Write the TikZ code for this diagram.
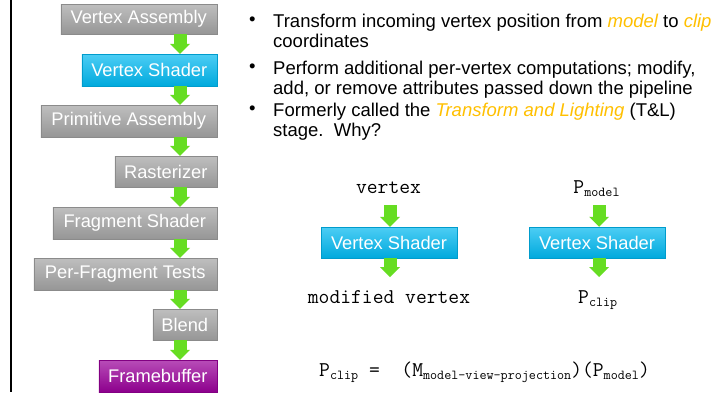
\documentclass[tikz,border=0pt]{standalone}
\usepackage{fontspec}
\setmainfont{Liberation Sans}
\usetikzlibrary{arrows.meta}
\definecolor{boxgray}{RGB}{163,163,163}
\definecolor{vscyan}{RGB}{0,184,240}
\definecolor{fbpurple}{RGB}{153,0,153}
\definecolor{arrgreen}{RGB}{102,221,34}
\definecolor{hlorange}{RGB}{255,192,0}
\newcommand\hlt[1]{{\itshape\color{hlorange}#1}}
\newcommand\msub[1]{\raisebox{-3.5pt}{\fontsize{13.7}{14}\selectfont #1}}
\begin{document}
\begin{tikzpicture}[x=1pt,y=-1pt,
  stagebox/.style={anchor=east, minimum height=31, inner sep=0, text=white,
    font=\fontsize{18.3}{20}\selectfont, draw=#1!85!black, line width=0.5,
    top color=#1!70!white, middle color=#1, bottom color=#1!92!black},
  flow/.style={line width=13, arrgreen,
    -{Triangle[width=20pt,length=10pt,line width=0pt]}},
  btext/.style={anchor=base west, inner sep=0, font=\fontsize{18.5}{20}\selectfont},
  mtext/.style={anchor=base, inner sep=0, font=\ttfamily\fontsize{21}{22}\selectfont}]
\useasboundingbox (0,0) rectangle (727,392);
\fill[white] (0,0) rectangle (727,392);
\draw[line width=2.5] (11,0) -- (11,392);

% pipeline
\node[stagebox=boxgray, minimum width=156, minimum height=30] (va) at (217,19) {Vertex Assembly};
\node[stagebox=vscyan, minimum width=135, minimum height=32] (vs) at (217,70) {Vertex Shader};
\node[stagebox=boxgray, minimum width=176, minimum height=32] (pa) at (217,121) {Primitive Assembly};
\node[stagebox=boxgray, minimum width=102] (ra) at (217,171.5) {Rasterizer};
\node[stagebox=boxgray, minimum width=164, minimum height=32] (fs) at (217,223) {Fragment Shader};
\node[stagebox=boxgray, minimum width=183, minimum height=32] (pf) at (217,274) {Per-Fragment Tests};
\node[stagebox=boxgray, minimum width=64] (bl) at (217,324.5) {Blend};
\node[stagebox=fbpurple, minimum width=118, minimum height=32] (fb) at (217,376) {Framebuffer};
\coordinate (ax) at (180,0);
\draw[flow] (va.south -| ax) -- (vs.north -| ax);
\draw[flow] (vs.south -| ax) -- (pa.north -| ax);
\draw[flow] (pa.south -| ax) -- (ra.north -| ax);
\draw[flow] (ra.south -| ax) -- (fs.north -| ax);
\draw[flow] (fs.south -| ax) -- (pf.north -| ax);
\draw[flow] (pf.south -| ax) -- (bl.north -| ax);
\draw[flow] (bl.south -| ax) -- (fb.north -| ax);

% bullets
\node[btext] (d1) at (249,25) {•};
\node[btext] (l1) at (273,27) {Transform incoming vertex position from \hlt{model} to \hlt{clip}};
\node[btext] (l2) at (273,47.5) {coordinates};
\node[btext] (d2) at (249,72) {•};
\node[btext] (l3) at (273,74) {Perform additional per-vertex computations; modify,};
\node[btext] (l4) at (273,94) {add, or remove attributes passed down the pipeline};
\node[btext] (d3) at (249,114) {•};
\node[btext] (l5) at (273,116) {Formerly called the \hlt{Transform and Lighting} (T\&L)};
\node[btext] (l6) at (273,136) {stage.\ \ Why?};

% left example
\node[mtext] (vtx) at (388.5,193) {vertex};
\node[stagebox=vscyan, anchor=center, minimum width=136] (vs1) at (389,242.5) {Vertex Shader};
\node[mtext] (mv) at (389,303) {modified vertex};
\coordinate (t1) at (390,205);
\coordinate (b1) at (390,277);
\draw[flow] (t1) -- (vs1.north -| t1);
\draw[flow] (vs1.south -| t1) -- (b1);

% right example
\node[mtext] (pm) at (596.5,193) {P\msub{model}};
\node[stagebox=vscyan, anchor=center, minimum width=136] (vs2) at (597,242.5) {Vertex Shader};
\node[mtext] (pc) at (597.7,303) {P\msub{clip}};
\coordinate (t2) at (599,205);
\coordinate (b2) at (599,277);
\draw[flow] (t2) -- (vs2.north -| t2);
\draw[flow] (vs2.south -| t2) -- (b2);

% equation
\node[mtext, anchor=base west] (eq) at (319,376) {P\msub{clip} = \ (M\msub{model-view-projection})(P\msub{model})};
\end{tikzpicture}
\end{document}
